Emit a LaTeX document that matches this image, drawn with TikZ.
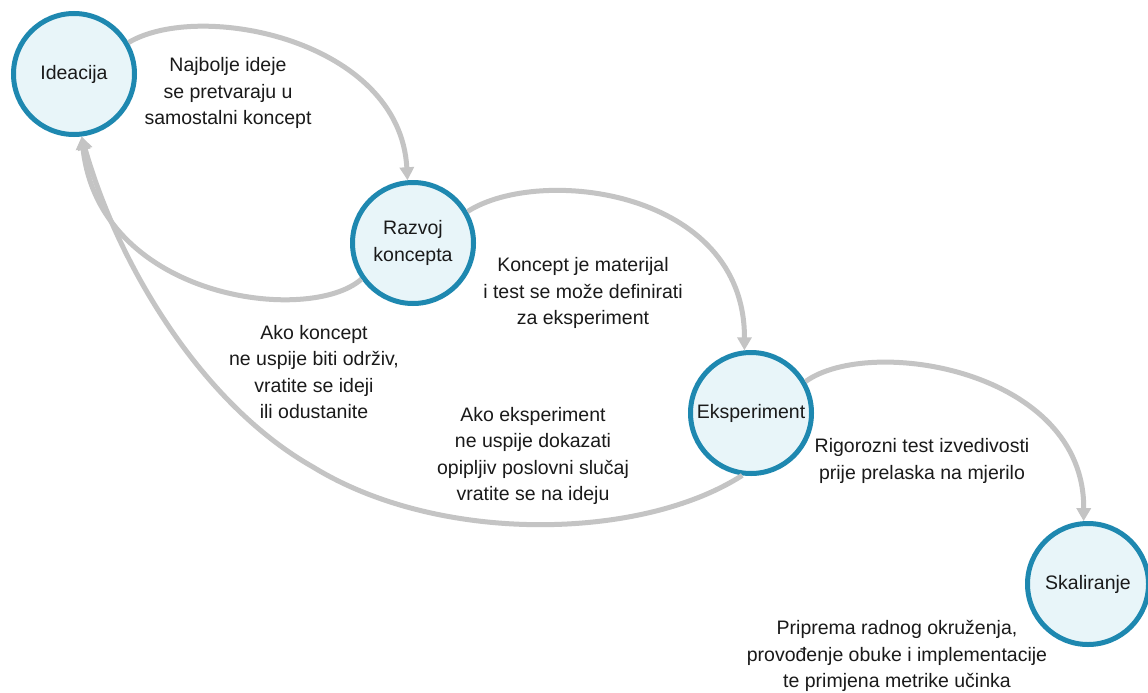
\documentclass[tikz,border=0pt]{standalone}
\usepackage{fontspec}
\setmainfont{Liberation Sans}
\usetikzlibrary{arrows.meta}
\definecolor{ring}{HTML}{1E88B0}
\definecolor{disc}{HTML}{E8F5F9}
\definecolor{flow}{HTML}{C4C4C4}
\definecolor{ink}{HTML}{1A1A1A}
\begin{document}
\begin{tikzpicture}[x=1pt,y=-1pt,
  stage/.style={circle,draw=ring,fill=disc,line width=5pt,minimum size=121pt,
    inner sep=0pt,align=center,text=ink,font=\fontsize{19.5}{26.5}\selectfont},
  note/.style={align=center,text=ink,inner sep=0pt,font=\fontsize{19.5}{26.5}\selectfont},
  flowline/.style={draw=flow,line width=5pt,-{Triangle[length=13pt,width=14pt]}}]
\useasboundingbox (0,0) rectangle (1148,693);
\fill[white] (0,0) rectangle (1148,693);

\node[stage] (ide) at (74,74) {Ideacija};
\node[stage] (raz) at (413,243) {Razvoj\\koncepta};
\node[stage] (eks) at (751,413) {Eksperiment};
\node[stage] (ska) at (1088,584) {Skaliranje};
\coordinate (m3) at (313,467);

\draw[flowline] (ide.30) .. controls (200,0) and (400,40) .. (raz.95);
\draw[flowline] (raz.215) .. controls (310,325) and (100,300) .. (ide.277);
\draw[flowline] (eks.262) .. controls (642,540) and (440,545) .. (m3)
  .. controls (200,403) and (117,262) .. (ide.277);
\draw[flowline] (raz.30) .. controls (540,165) and (745,190) .. (eks.96);
\draw[flowline] (eks.30) .. controls (870,335) and (1085,370) .. (ska.94);

\node[note] (n1) at (228,93) {Najbolje ideje\\se pretvaraju u\\samostalni koncept};
\node[note] (n2) at (583,293) {Koncept je materijal\\i test se može definirati\\za eksperiment};
\node[note] (n3) at (314,372) {Ako koncept\\ne uspije biti održiv,\\vratite se ideji\\ili odustanite};
\node[note] (n4) at (533,456) {Ako eksperiment\\ne uspije dokazati\\opipljiv poslovni slučaj\\vratite se na ideju};
\node[note] (n5) at (922,461) {Rigorozni test izvedivosti\\prije prelaska na mjerilo};
\node[note] (n6) at (897,656) {Priprema radnog okruženja,\\provođenje obuke i implementacije\\te primjena metrike učinka};
\end{tikzpicture}
\end{document}
